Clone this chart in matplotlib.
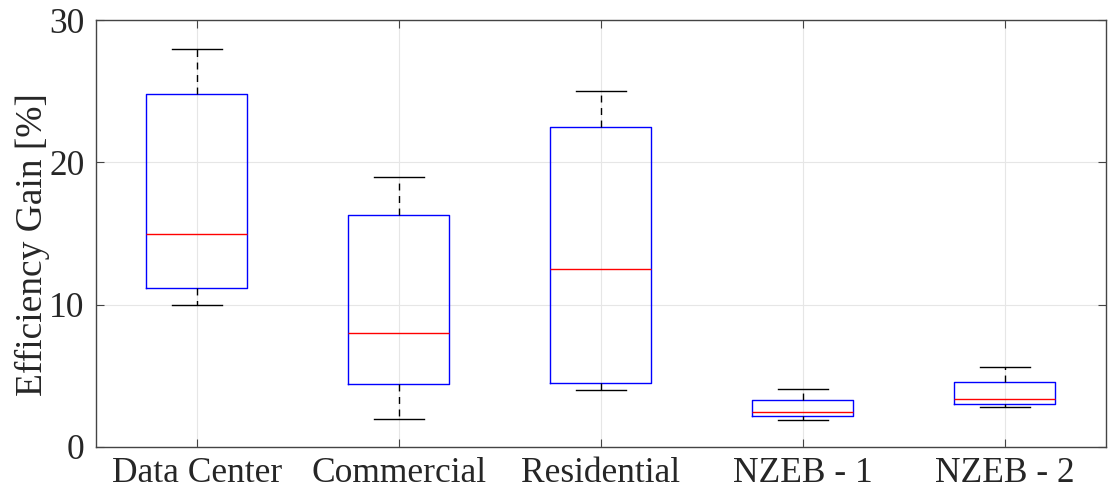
import matplotlib.pyplot as plt

# box statistics
categories = ["Data Center", "Commercial", "Residential", "NZEB - 1", "NZEB - 2"]
whislo = [10.0, 2.0, 4.0, 1.9, 2.8]
q1 = [11.2, 4.4, 4.5, 2.15, 3.05]
med = [15.0, 8.0, 12.5, 2.45, 3.4]
q3 = [24.8, 16.3, 22.5, 3.3, 4.55]
whishi = [28.0, 19.0, 25.0, 4.1, 5.6]

plt.rcParams['font.family'] = ['Liberation Serif', 'DejaVu Serif']

stats = []
for i in range(len(categories)):
    stats.append(dict(label=categories[i], whislo=whislo[i], q1=q1[i], med=med[i],
                      q3=q3[i], whishi=whishi[i], fliers=[]))

fig = plt.figure(figsize=(11.08, 4.92), dpi=100)
ax = fig.add_axes([0.0866, 0.0915, 0.9114, 0.8675])

ax.bxp(stats, positions=range(1, len(categories) + 1), widths=0.5, showfliers=False,
       boxprops=dict(color='blue', linewidth=1.0),
       medianprops=dict(color='red', linewidth=1.0),
       whiskerprops=dict(color='black', linestyle=(0, (5, 4)), linewidth=1.0),
       capprops=dict(color='black', linewidth=1.0), capwidths=0.25)

ax.set_xlim(0.5, 5.5)
ax.set_ylim(0, 30)
ax.set_yticks([0, 10, 20, 30])
ax.grid(True, color='#e6e6e6', linewidth=0.8)
ax.set_axisbelow(True)
ax.tick_params(direction='in', top=True, right=True, length=6, color='#444444',
               labelsize=25.5, labelcolor='#262626')
ax.tick_params(axis='y', pad=8)
ax.tick_params(axis='x', pad=7)
for s in ax.spines.values():
    s.set_color('#444444')
    s.set_linewidth(1.0)
ax.set_ylabel("Efficiency Gain [%]", fontsize=27, color='#262626')
ax.yaxis.set_label_coords(-0.046, 0.475)

fig.savefig("out.png", dpi=100)
